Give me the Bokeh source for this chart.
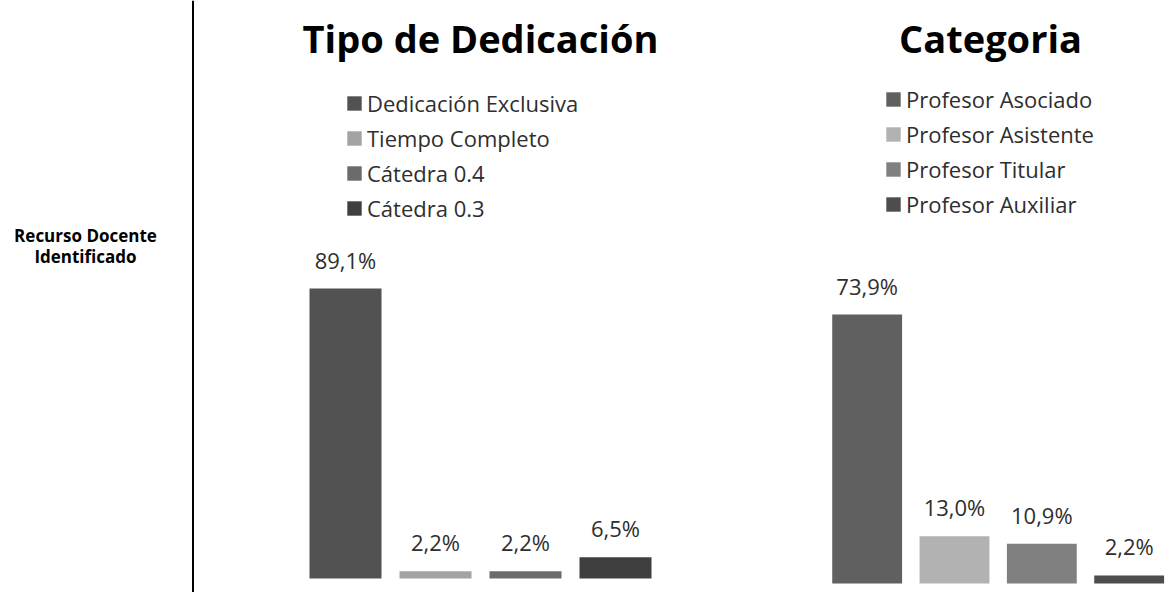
from bokeh.plotting import figure
from bokeh.models import ColumnDataSource, Range1d, Span, Label, Legend, LegendItem
from bokeh.layouts import row
from bokeh.core.properties import value
from bokeh.embed import file_html
from bokeh.resources import INLINE

# ---- data ----
side_label = ["Recurso Docente", "Identificado"]

ded_title = "Tipo de Dedicación"
ded_cats = ["Dedicación Exclusiva", "Tiempo Completo", "Cátedra 0.4", "Cátedra 0.3"]
ded_vals = [89.1, 2.2, 2.2, 6.5]

cat_title = "Categoria"
cat_cats = ["Profesor Asociado", "Profesor Asistente", "Profesor Titular", "Profesor Auxiliar"]
cat_vals = [73.9, 13.0, 10.9, 2.2]

# ---- styles ----
ded_colors = ["#525252", "#a3a3a3", "#6b6b6b", "#3f3f3f"]
cat_colors = ["#606060", "#b2b2b2", "#808080", "#4d4d4d"]
FONT = "Open Sans"
TXT = "#2e2e2e"
H = 592


def fmt(v):
    return f"{v:.1f}".replace(".", ",") + "%"


# ---- left label panel ----
w0 = 240
p0 = figure(width=w0, height=H, output_backend="svg", toolbar_location=None,
            x_axis_type=None, y_axis_type=None,
            x_range=Range1d(0, w0), y_range=Range1d(0, H),
            min_border=0, outline_line_color=None)
p0.grid.visible = False
p0.add_layout(Span(location=192.5, dimension="height", line_color="black", line_width=2))
for i, t in enumerate(side_label):
    p0.add_layout(Label(x=85, y=357 - 21 * i, text=t, text_align="center",
                        text_baseline="alphabetic", text_font=FONT,
                        text_font_style="bold", text_font_size="17px",
                        text_color="black"))


def bar_panel(title, cats, vals, colors, width, bl, br, xend, base_px, px_per_unit,
              title_x, leg_x, leg_y):
    src = ColumnDataSource(dict(x=list(range(len(cats))), v=vals, c=colors,
                                lbl=[fmt(v) for v in vals], cat=cats))
    # frame spans the full height; zero line sits base_px above the bottom
    y0 = -base_px / px_per_unit
    y1 = (H - base_px) / px_per_unit
    p = figure(width=width, height=H, output_backend="svg", toolbar_location=None,
               x_axis_type=None, y_axis_type=None,
               x_range=Range1d(-0.5, xend), y_range=Range1d(y0, y1),
               min_border_left=bl, min_border_right=br, min_border_top=0,
               min_border_bottom=0, outline_line_color=None)
    p.grid.visible = False
    r = p.vbar(x="x", top="v", width=0.8, bottom=0, fill_color="c",
               line_color=None, source=src)
    p.text(x="x", y="v", text="lbl", text_align="center", text_baseline="alphabetic",
           y_offset=-29, text_font=value(FONT), text_font_size="22px",
           text_color=TXT, source=src)
    p.add_layout(Label(x=title_x, y=H - 47 + 10, x_units="screen", y_units="screen",
                       text=title, text_align="center", text_baseline="alphabetic",
                       text_font=FONT, text_font_style="bold", text_font_size="38px",
                       text_color="black"))
    items = [LegendItem(label=c, renderers=[r], index=i) for i, c in enumerate(cats)]
    leg = Legend(items=items, location=(leg_x, leg_y), padding=0, margin=0,
                 glyph_width=18, glyph_height=18, label_standoff=4,
                 label_height=31, spacing=4, border_line_color=None,
                 background_fill_alpha=0, label_text_font=FONT,
                 label_text_font_size="22px", label_text_color=TXT)
    p.add_layout(leg)
    return p


# left chart: frame x 300..660, zero line 14px above the bottom
p1 = bar_panel(ded_title, ded_cats, ded_vals, ded_colors, 500, 60, 80, 3.5,
               14, 290 / 89.1, 180, 45, H - 223)

# right chart: frame x 823..1169, zero line 9px above the bottom
p2 = bar_panel(cat_title, cat_cats, cat_vals, cat_colors, 429, 83, 0, 3.462,
               9, 269 / 73.9, 167, 61, H - 219.5)

layout = row(p0, p1, p2)
open("out.html", "w").write(file_html(layout, INLINE))
